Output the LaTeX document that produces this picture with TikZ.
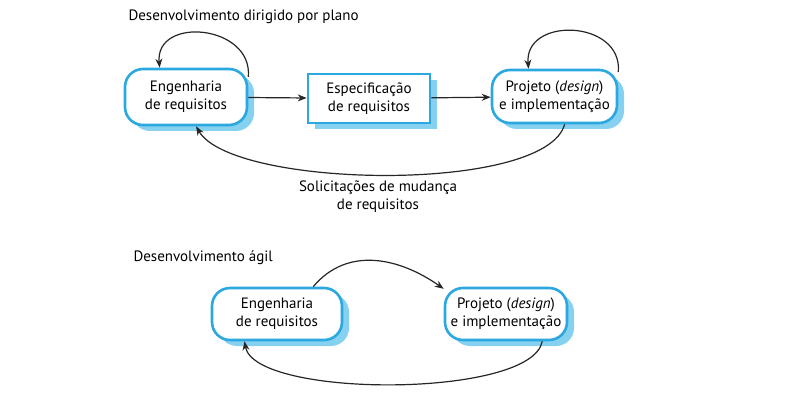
\documentclass[tikz,border=0pt]{standalone}
\usepackage{fontspec}
\setmainfont{PT Sans}
\usetikzlibrary{arrows.meta,shadows}
\definecolor{boxblue}{HTML}{2AA8DF}
\definecolor{shadeblue}{HTML}{86D0F0}
\tikzset{
	stage/.style={draw=boxblue, line width=2.6pt, fill=white, align=center, font=\fontsize{15}{18}\selectfont,
		drop shadow={shadow xshift=7pt, shadow yshift=-6pt, fill=shadeblue, opacity=1}},
	roundstage/.style={stage, rounded corners=18pt},
	flow/.style={line width=1.2pt, draw=black!85, -{Stealth[length=9pt,width=7pt]}},
	heading/.style={anchor=west, font=\fontsize{15}{18}\selectfont}
}

\begin{document}
\begin{tikzpicture}[x=1pt, y=-1pt]
			%%%%% START %%%%%
			\useasboundingbox (0, 0) rectangle (792, 406);
			
			\node[heading] (plantitle) at (125, 17) {Desenvolvimento dirigido por plano};
			
			\node[roundstage, minimum width=122pt, minimum height=56pt] (planreq) at (186, 97) {Engenharia\\de requisitos};
			\node[stage, minimum width=122pt, minimum height=49pt] (planspec) at (369, 98.5) {Especificação\\de requisitos};
			\node[roundstage, minimum width=125pt, minimum height=53pt] (plandesign) at (554.5, 96.5) {Projeto (\textit{design})\\e implementação};
			
			\draw[flow] (planreq) -- (planspec);
			\draw[flow] (planspec) -- (plandesign);
			\draw[flow] (planreq.18) to[out=85, in=95, looseness=1.5] (planreq.132);
			\draw[flow] (plandesign.21) to[out=85, in=95, looseness=1.5] (plandesign.133);
			\draw[flow] (plandesign.-70) to[out=-105, in=-60, looseness=0.5] (planreq.-71);
			
			\node[align=center, font=\fontsize{15}{18}\selectfont] (changes) at (378, 197) {Solicitações de mudança\\de requisitos};
			
			\node[heading] (agiletitle) at (130, 258) {Desenvolvimento ágil};
			
			\node[roundstage, minimum width=130pt, minimum height=52pt] (agilereq) at (277, 314) {Engenharia\\de requisitos};
			\node[roundstage, minimum width=122pt, minimum height=52pt] (agiledesign) at (506, 314) {Projeto (\textit{design})\\e implementação};
			
			\draw[flow] (agilereq.37) to[out=50, in=145, looseness=1.05] (agiledesign.158);
			\draw[flow] (agiledesign.-37) to[out=-100, in=-80, looseness=0.5] (agilereq.-140);
			%%%%% END %%%%%
\end{tikzpicture}
\end{document}
